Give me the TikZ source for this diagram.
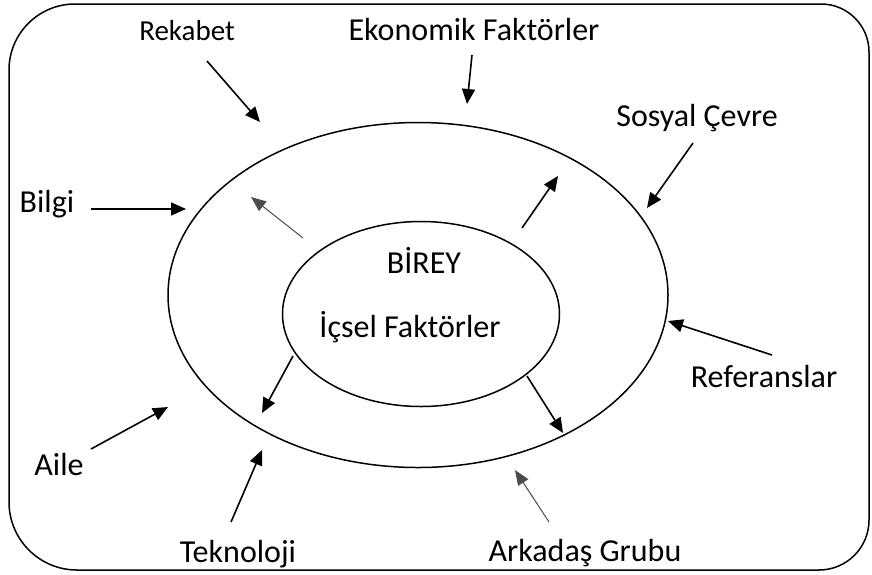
\documentclass[tikz,border=0pt]{standalone}
\usepackage{fontspec}
\setmainfont{Carlito}
\usetikzlibrary{positioning}
\usetikzlibrary{arrows.meta}
\usetikzlibrary{shapes.geometric}

\begin{document}
\begin{tikzpicture}
			[x=1pt,y=-1pt,
			 every node/.style={inner sep=0pt,font=\fontsize{32}{38}\selectfont},
			 lbl/.style={anchor=base},
			 ring/.style={ellipse,draw,line width=1.5pt},
			 connect/.style={line width=1.6pt,-{Triangle[length=15pt,width=13pt]}},
			 faint/.style={line width=1pt,draw=black!70,-{Triangle[length=15pt,width=12pt]}}]
			\useasboundingbox (0,0) rectangle (872,574);
			\draw [line width=1.5pt]
			  (9,300) [rounded corners=66pt] -- (9,4) -- (440,4)
			  [rounded corners=48pt] -- (869,4) -- (869,300)
			  [rounded corners=50pt] -- (869,570) -- (440,570)
			  [rounded corners=68pt] -- (9,570) -- cycle;

			\node (outer) [ring,minimum width=500pt,minimum height=345pt] at (418,295) {};
			\node (inner) [ring,minimum width=277pt,minimum height=185pt] at (421,314) {};

			\node (birey) [lbl] at (424,273) {BİREY};
			\node (icsel) [lbl] at (410,337) {İçsel Faktörler};

			\node (rekabet) [lbl,font=\fontsize{29}{34}\selectfont] at (187,40) {Rekabet};
			\node (ekonomi) [lbl] at (474,40) {Ekonomik Faktörler};
			\node (sosyal) [lbl] at (697,126) {Sosyal Çevre};
			\node (bilgi) [lbl] at (47,212) {Bilgi};
			\node (referans) [lbl] at (764,387) {Referanslar};
			\node (aile) [lbl] at (59,475) {Aile};
			\node (teknoloji) [lbl] at (238,562) {Teknoloji};
			\node (arkadas) [lbl] at (585,561) {Arkadaş Grubu};

			% outside factors
			\coordinate (rek1) at (207,61);  \coordinate (rek2) at (260,122);
			\coordinate (eko1) at (472,55);  \coordinate (eko2) at (467,104);
			\coordinate (sos1) at (693,143); \coordinate (sos2) at (647,208);
			\coordinate (bil1) at (91,209);  \coordinate (bil2) at (186,209);
			\coordinate (ref1) at (772,355); \coordinate (ref2) at (668,321);
			\coordinate (ail1) at (91,449);  \coordinate (ail2) at (168,407);
			\coordinate (tek1) at (231,522); \coordinate (tek2) at (262,450);
			\coordinate (ark1) at (549,522); \coordinate (ark2) at (515,470);
			\draw [connect] (rek1) -- (rek2);
			\draw [connect] (eko1) -- (eko2);
			\draw [connect] (sos1) -- (sos2);
			\draw [connect] (bil1) -- (bil2);
			\draw [connect] (ref1) -- (ref2);
			\draw [connect] (ail1) -- (ail2);
			\draw [connect] (tek1) -- (tek2);
			\draw [faint] (ark1) -- (ark2);

			% inner factors
			\coordinate (ul1) at (303,238); \coordinate (ul2) at (251,197);
			\coordinate (ur1) at (522,228); \coordinate (ur2) at (558,176);
			\coordinate (ll1) at (293,356); \coordinate (ll2) at (262,413);
			\coordinate (lr1) at (527,376); \coordinate (lr2) at (563,433);
			\draw [faint] (ul1) -- (ul2);
			\draw [connect] (ur1) -- (ur2);
			\draw [connect] (ll1) -- (ll2);
			\draw [connect] (lr1) -- (lr2);
	  \end{tikzpicture}
\end{document}
